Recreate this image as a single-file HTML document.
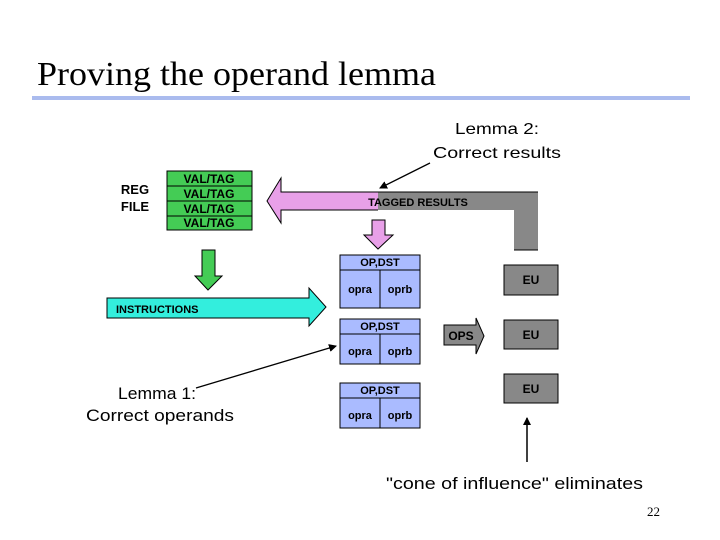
<!DOCTYPE html>
<html><head><meta charset="utf-8"><style>
body{margin:0;background:#fff;}
svg{display:block;}
.b{font-family:"Liberation Sans",Arial,sans-serif;font-weight:bold;}
.n{font-family:"Liberation Sans",Arial,sans-serif;}
</style></head><body>
<svg width="720" height="540" viewBox="0 0 720 540" xmlns="http://www.w3.org/2000/svg">
<defs><marker id="ah" markerWidth="8" markerHeight="8" refX="7" refY="4" orient="auto" markerUnits="userSpaceOnUse"><path d="M0,0 L8,4 L0,8 z" fill="#000"/></marker></defs>
<text x="37" y="85" font-family="Liberation Serif,serif" font-size="34" textLength="399" lengthAdjust="spacingAndGlyphs">Proving the operand lemma</text>
<rect x="32" y="96" width="658" height="4" fill="#aabbee"/>
<text x="455" y="134" class="n" font-size="16" textLength="84" lengthAdjust="spacingAndGlyphs">Lemma 2:</text>
<text x="433" y="158" class="n" font-size="16" textLength="128" lengthAdjust="spacingAndGlyphs">Correct results</text>
<line x1="430" y1="163" x2="380" y2="188" stroke="#000" stroke-width="1.3" marker-end="url(#ah)"/>
<text x="135" y="194" class="b" font-size="13" text-anchor="middle">REG</text>
<text x="135" y="211" class="b" font-size="13" text-anchor="middle">FILE</text>
<g stroke="#000" stroke-width="1" fill="#44cc55">
<rect x="167" y="171" width="85" height="15"/><rect x="167" y="186" width="85" height="15"/>
<rect x="167" y="201" width="85" height="15"/><rect x="167" y="216" width="85" height="14"/></g>
<g class="b" font-size="12" text-anchor="middle"><text x="209" y="183">VAL/TAG</text><text x="209" y="198">VAL/TAG</text><text x="209" y="213">VAL/TAG</text><text x="209" y="227">VAL/TAG</text></g>
<path d="M378,192 L538,192 L538,250 L514,250 L514,210 L378,210 z" fill="#888"/>
<path d="M378,192 L281,192 L281,178 L267,201 L281,223 L281,210 L378,210" fill="#e8a0e8" stroke="#000" stroke-width="1"/>
<path d="M378,192 L538,192 M538,250 L514,250" stroke="#000" stroke-width="1"/>
<text x="418" y="206" class="b" font-size="11" text-anchor="middle">TAGGED RESULTS</text>
<path d="M372,220 L385,220 L385,235 L393,235 L378,249 L364,235 L372,235 z" fill="#e8a0e8" stroke="#000"/>
<path d="M202,250 L215,250 L215,276 L222,276 L208,290 L195,276 L202,276 z" fill="#44cc55" stroke="#000"/>
<path d="M107,298 L309,298 L309,288 L326,307 L309,326 L309,318 L107,318 z" fill="#33eedd" stroke="#000"/>
<text x="116" y="313" class="b" font-size="11">INSTRUCTIONS</text>
<g stroke="#000" fill="#aabbff">
<rect x="340" y="255" width="80" height="15"/><rect x="340" y="270" width="40" height="38"/><rect x="380" y="270" width="40" height="38"/>
<rect x="340" y="319" width="80" height="15"/><rect x="340" y="334" width="40" height="30"/><rect x="380" y="334" width="40" height="30"/>
<rect x="340" y="383" width="80" height="15"/><rect x="340" y="398" width="40" height="30"/><rect x="380" y="398" width="40" height="30"/>
</g>
<g class="b" font-size="11" text-anchor="middle">
<text x="380" y="266">OP,DST</text><text x="360" y="293">opra</text><text x="400" y="293">oprb</text>
<text x="380" y="330">OP,DST</text><text x="360" y="355">opra</text><text x="400" y="355">oprb</text>
<text x="380" y="394">OP,DST</text><text x="360" y="419">opra</text><text x="400" y="419">oprb</text>
</g>
<g stroke="#000" fill="#888"><rect x="504" y="265" width="54" height="30"/><rect x="504" y="320" width="54" height="29"/><rect x="504" y="374" width="54" height="29"/></g>
<g class="b" font-size="12" text-anchor="middle"><text x="531" y="284">EU</text><text x="531" y="339">EU</text><text x="531" y="393">EU</text></g>
<path d="M444,325 L476,325 L476,318 L484,336 L476,354 L476,345 L444,345 z" fill="#888" stroke="#000"/>
<text x="461" y="340" class="b" font-size="12" text-anchor="middle">OPS</text>
<text x="118" y="399" class="n" font-size="17" textLength="78" lengthAdjust="spacingAndGlyphs">Lemma 1:</text>
<text x="86" y="421" class="n" font-size="17" textLength="148" lengthAdjust="spacingAndGlyphs">Correct operands</text>
<line x1="196" y1="388" x2="336" y2="346" stroke="#000" stroke-width="1.3" marker-end="url(#ah)"/>
<line x1="527" y1="462" x2="527" y2="418" stroke="#000" stroke-width="1.5" marker-end="url(#ah)"/>
<text x="386" y="489" class="n" font-size="17" textLength="257" lengthAdjust="spacingAndGlyphs">"cone of influence" eliminates</text>
<text x="660" y="516" font-family="Liberation Serif,serif" font-size="13" text-anchor="end">22</text>
</svg>
</body></html>
